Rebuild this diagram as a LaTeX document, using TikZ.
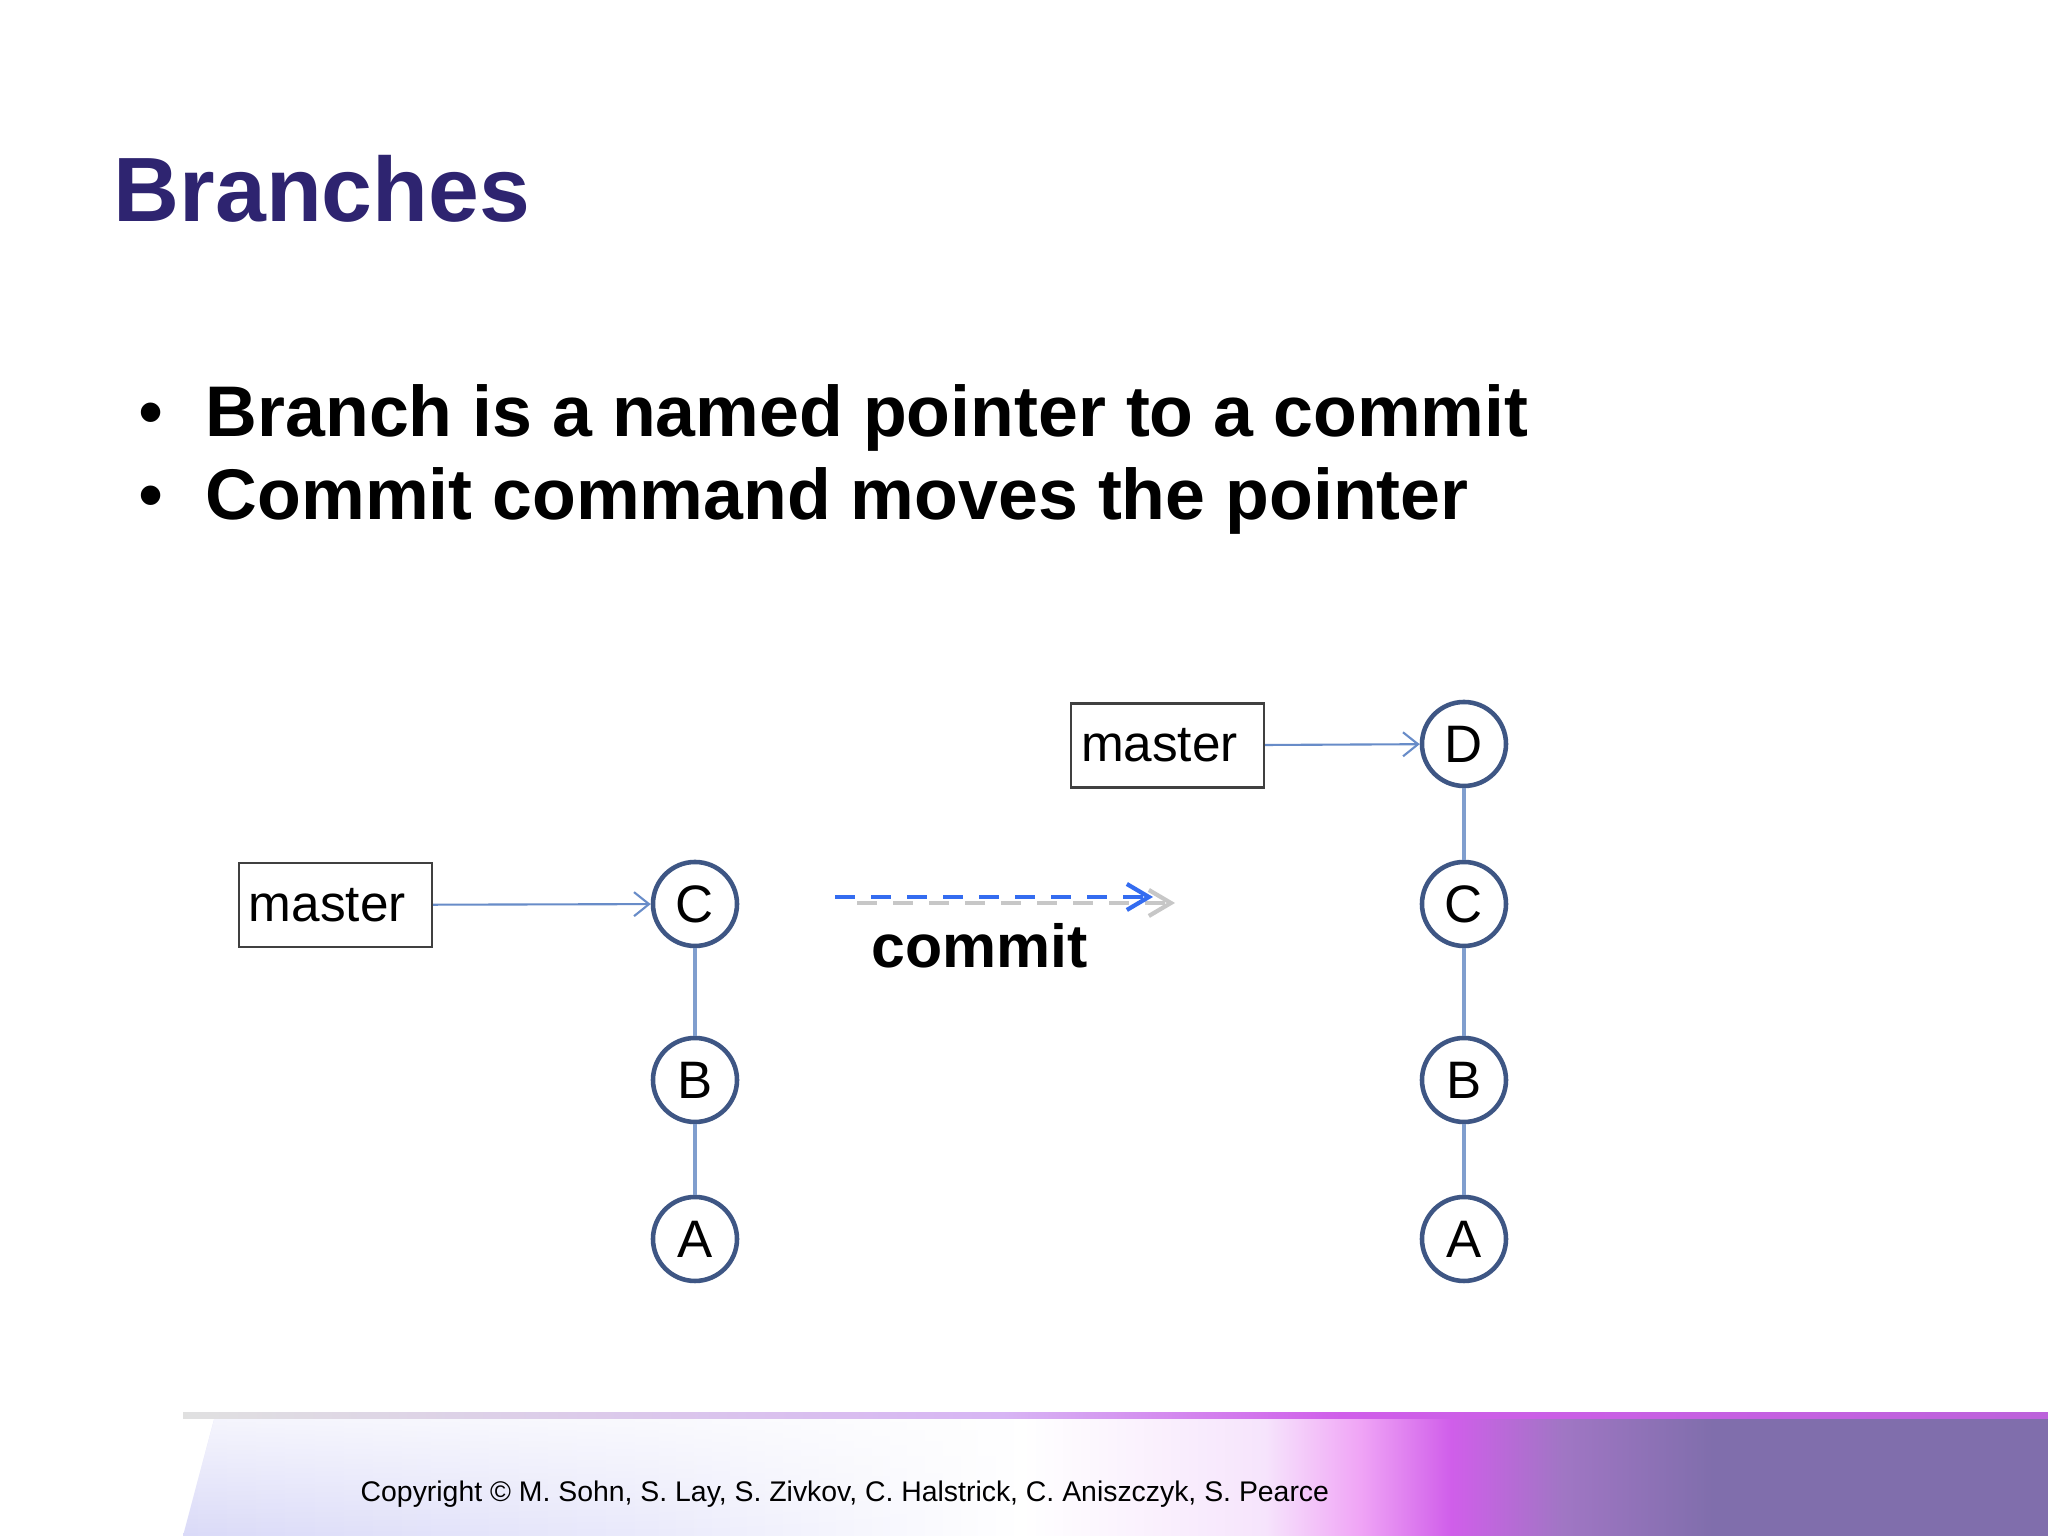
\documentclass[tikz,border=0pt]{standalone}
\usepackage{fontspec}
\setmainfont{Liberation Sans}
\usetikzlibrary{arrows.meta,fadings}

\definecolor{titleblue}{RGB}{46,36,112}
\definecolor{ringblue}{RGB}{62,86,132}
\definecolor{edgeblue}{RGB}{128,158,206}
\definecolor{ptrblue}{RGB}{104,140,200}
\definecolor{dashblue}{RGB}{52,108,240}
\definecolor{bandA}{RGB}{218,218,248}
\definecolor{bandB}{RGB}{234,234,251}
\definecolor{bandC}{RGB}{255,255,255}
\definecolor{bandH}{RGB}{246,228,252}
\definecolor{bandD}{RGB}{240,166,246}
\definecolor{bandE}{RGB}{208,94,234}
\definecolor{bandF}{RGB}{160,118,196}
\definecolor{bandG}{RGB}{128,110,172}
% stops sit between 25bp and 75bp, the part that tikz stretches over the path
\pgfdeclarehorizontalshading{footband}{100bp}{color(0bp)=(bandA); color(25bp)=(bandA);
  color(37.5bp)=(bandB); color(47.5bp)=(bandC); color(54bp)=(bandH); color(56.5bp)=(bandD);
  color(59bp)=(bandE); color(62bp)=(bandF); color(66bp)=(bandG); color(100bp)=(bandG)}
\pgfdeclarehorizontalshading{footline}{100bp}{color(0bp)=(black!12); color(25bp)=(black!12);
  color(47bp)=(bandA!70!bandE); color(56bp)=(bandE); color(75bp)=(bandE!75!bandG); color(100bp)=(bandE!75!bandG)}

\begin{document}
\begin{tikzpicture}
[commit/.style={circle,draw=ringblue,line width=1.3pt,fill=white,minimum size=8.4mm,inner sep=0pt,
   font=\fontsize{15pt}{18pt}\selectfont},
 branch/.style={draw=black!75,line width=0.7pt,fill=white,text width=17.3mm,align=left,inner xsep=1mm,
   minimum height=8.4mm,inner ysep=0pt,font=\fontsize{14.6pt}{17pt}\selectfont},
 parent/.style={edgeblue,line width=0.9pt},
 pointer/.style={ptrblue,line width=0.6pt,-{Straight Barb[length=1.5mm,width=2.4mm]}},
 moveto/.style={line width=1.2pt,dash pattern=on 2mm off 1.6mm,-{Straight Barb[length=2.2mm,width=2.6mm]}}]
  \useasboundingbox (0,0) rectangle (20.48,15.36);
  \fill[white] (0,0) rectangle (20.48,15.36);

  % footer band
  \shade[shading=footband] (1.83,0) -- (2.15,1.2) -- (20.48,1.2) -- (20.48,0) -- cycle;
  \fill[white,opacity=0.75,path fading=south] (1.83,0) -- (2.15,1.2) -- (10.2,1.2) -- (10.2,0) -- cycle;
  \shade[shading=footline] (1.83,1.17) rectangle (20.48,1.23);
  \node[anchor=base west,inner sep=0pt,font=\fontsize{8.08pt}{9.7pt}\selectfont] (copyright) at (3.60,0.34)
    {Copyright © M. Sohn, S. Lay, S. Zivkov, C. Halstrick, C. Aniszczyk, S. Pearce};

  % title and bullets
  \node[anchor=base west,inner sep=0pt,text=titleblue,font=\fontsize{26pt}{31pt}\selectfont\bfseries]
    (title) at (1.13,13.14) {Branches};
  \foreach \name/\y/\txt in {first/10.99/Branch is a named pointer to a commit,
                             second/10.16/Commit command moves the pointer}
  {
    \node[anchor=base west,inner sep=0pt,font=\fontsize{20.4pt}{24pt}\selectfont] (dot\name) at (1.38,\y) {•};
    \node[anchor=base west,inner sep=0pt,font=\fontsize{20.4pt}{24pt}\selectfont\bfseries] (item\name) at (2.05,\y) {\txt};
  }

  % before the commit
  \foreach \c/\y in {A/2.97,B/4.56,C/6.32}
    \node[commit] (old\c) at (6.95,\y) {\c};
  \draw[parent] (oldA) -- (oldB);
  \draw[parent] (oldB) -- (oldC);
  \node[branch] (oldmaster) at (3.355,6.31) {master};
  \draw[pointer] (oldmaster) -- (oldC);

  % the commit step
  \coordinate (shadowstart) at (8.57,6.33);
  \coordinate (shadowend) at (11.75,6.33);
  \coordinate (stepstart) at (8.35,6.39);
  \coordinate (stepend) at (11.53,6.39);
  \draw[moveto,black!22] (shadowstart) -- (shadowend);
  \draw[moveto,dashblue] (stepstart) -- (stepend);
  \node[anchor=base west,inner sep=0pt,font=\fontsize{17.3pt}{21pt}\selectfont\bfseries] (steplabel) at (8.71,5.68) {commit};

  % after the commit
  \foreach \c/\y in {A/2.97,B/4.56,C/6.32,D/7.92}
    \node[commit] (new\c) at (14.64,\y) {\c};
  \draw[parent] (newA) -- (newB);
  \draw[parent] (newB) -- (newC);
  \draw[parent] (newC) -- (newD);
  \node[branch] (newmaster) at (11.675,7.905) {master};
  \draw[pointer] (newmaster) -- (newD);
\end{tikzpicture}
\end{document}
